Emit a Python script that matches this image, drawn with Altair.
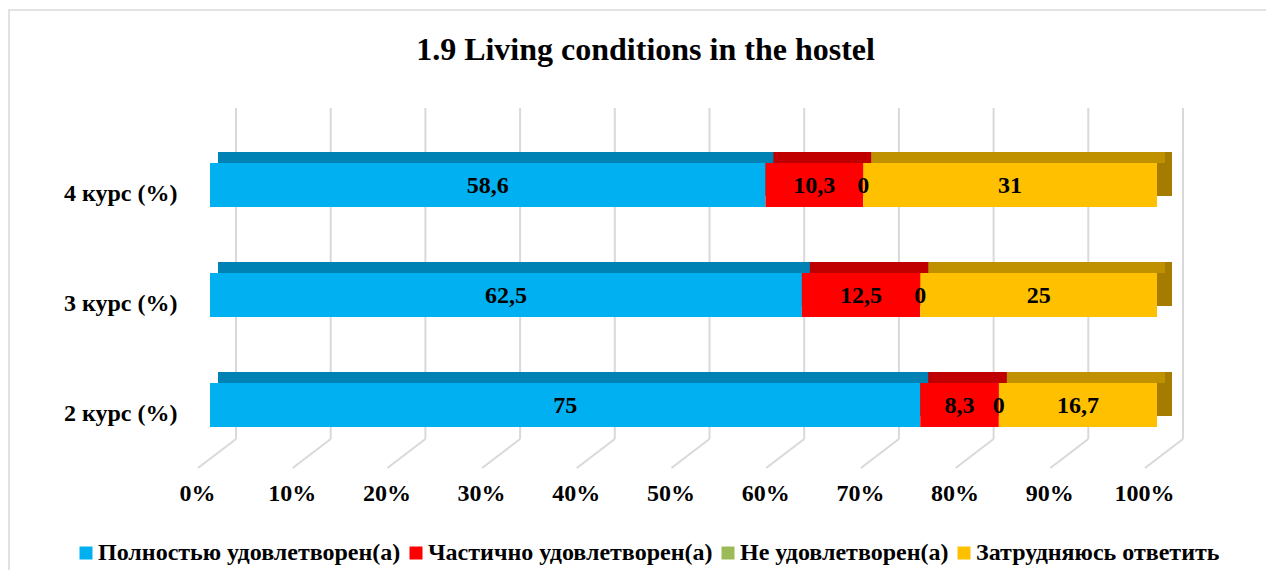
import altair as alt
import pandas as pd

# ---- data ----
courses = ["4 курс (%)", "3 курс (%)", "2 курс (%)"]
categories = ["Полностью удовлетворен(а)", "Частично удовлетворен(а)",
              "Не удовлетворен(а)", "Затрудняюсь ответить"]
fully = [58.6, 62.5, 75]
partly = [10.3, 12.5, 8.3]
not_sat = [0, 0, 0]
hard = [31, 25, 16.7]
ticks = [0, 0.1, 0.2, 0.3, 0.4, 0.5, 0.6, 0.7, 0.8, 0.9, 1.0]

# palettes
front_colors = ["#00B0F0", "#FF0000", "#9BBB59", "#FFC000"]
top_colors = ["#0083B4", "#C00000", "#74913F", "#BF9000"]
side_colors = ["#006C94", "#A00000", "#5E7A33", "#A67C00"]

series = [fully, partly, not_sat, hard]
rows = []
for ci, cat in enumerate(categories):
    for ri, course in enumerate(courses):
        rows.append({"course": course, "cat": cat, "ord": ci, "value": series[ci][ri]})
df = pd.DataFrame(rows)
tick_df = pd.DataFrame({"t": ticks})

FONT = "Liberation Serif"
xscale = alt.Scale(domain=[0, 1], nice=False, zero=False)
yscale = alt.Scale(paddingInner=0, paddingOuter=0)

xaxis = alt.Axis(values=ticks, format=".0%", grid=False, domain=False, ticks=False,
                 labelFont=FONT, labelFontSize=24, labelFontWeight="bold",
                 labelColor="black", labelOffset=-13, labelPadding=33,
                 labelBaseline="middle", labelFlush=False, labelOverlap=False, title=None)
yaxis = alt.Axis(domain=False, ticks=False, labelFont=FONT, labelFontSize=24,
                 labelFontWeight="bold", labelColor="black", labelPadding=33,
                 labelOffset=9, title=None)

base = (
    alt.Chart(df)
    .transform_stack(stack="value", groupby=["course"], as_=["v0", "v1"],
                     sort=[alt.SortField("ord", order="ascending")], offset="normalize")
    .transform_calculate(mid="(datum.v0 + datum.v1) / 2",
                         label="replace(format(datum.value, '.1~f'), '.', ',')")
)

yenc = alt.Y("course:N", sort=courses, scale=yscale, axis=yaxis)

border = alt.Chart(pd.DataFrame({"a": [0]})).mark_rect(
    fill="transparent", stroke="#D9D9D9", strokeWidth=1.5
).encode(x=alt.value(-201), x2=alt.value(1100), y=alt.value(-120), y2=alt.value(500))

grid_back = alt.Chart(tick_df).mark_rule(color="#D9D9D9", strokeWidth=2, xOffset=26).encode(
    x=alt.X("t:Q", scale=xscale, axis=xaxis),
    y=alt.value(-22), y2=alt.value(309),
)
grid_floor = alt.Chart(tick_df).mark_rule(color="#D9D9D9", strokeWidth=2, xOffset=26, x2Offset=-12).encode(
    x=alt.X("t:Q", scale=xscale, axis=xaxis), x2="t:Q",
    y=alt.value(309), y2=alt.value(338),
)

side = base.mark_bar(size=44, xOffset=15, x2Offset=15, yOffset=-11).encode(
    x=alt.X("v0:Q", scale=xscale, axis=xaxis), x2="v1:Q",
    y=yenc,
    color=alt.Color("cat:N", scale=alt.Scale(domain=categories, range=side_colors), legend=None),
)
top = base.mark_bar(size=11, xOffset=8, x2Offset=8, yOffset=-27.5).encode(
    x=alt.X("v0:Q", scale=xscale, axis=xaxis), x2="v1:Q",
    y=yenc,
    color=alt.Color("cat:N", scale=alt.Scale(domain=categories, range=top_colors), legend=None),
)
front = base.mark_bar(size=44).encode(
    x=alt.X("v0:Q", scale=xscale, axis=xaxis),
    x2="v1:Q",
    y=yenc,
    color=alt.Color("cat:N", scale=alt.Scale(domain=categories, range=front_colors),
                    legend=alt.Legend(orient="none", legendX=-136, legendY=411,
                                      direction="horizontal", title=None,
                                      symbolType="square", symbolSize=169,
                                      symbolStrokeWidth=0, labelFont=FONT,
                                      labelFontSize=24, labelFontWeight="bold",
                                      labelColor="black", labelLimit=0, labelOffset=0,
                                      columnPadding=3, padding=0)),
)
text = base.mark_text(font=FONT, fontSize=24, fontWeight="bold", color="black",
                      baseline="middle", dy=1).encode(
    x=alt.X("mid:Q", scale=xscale, axis=xaxis),
    y=yenc,
    text="label:N",
)

chart = (
    alt.layer(border, grid_back, grid_floor, side, top, front, text)
    .resolve_scale(color="independent")
    .properties(
        width=947, height=330,
        autosize=alt.AutoSizeParams(type="none"),
        padding={"left": 202, "top": 122, "right": 109, "bottom": 110},
        title=alt.TitleParams("1.9 Living conditions in the hostel", font=FONT, fontSize=32,
                              fontWeight="bold", color="black", anchor="middle",
                              frame="group", dx=-38, baseline="alphabetic", offset=0, dy=83),
    )
    .configure_view(strokeWidth=0)
)

chart.save("out.html", embed_options={"renderer": "svg", "actions": False})
